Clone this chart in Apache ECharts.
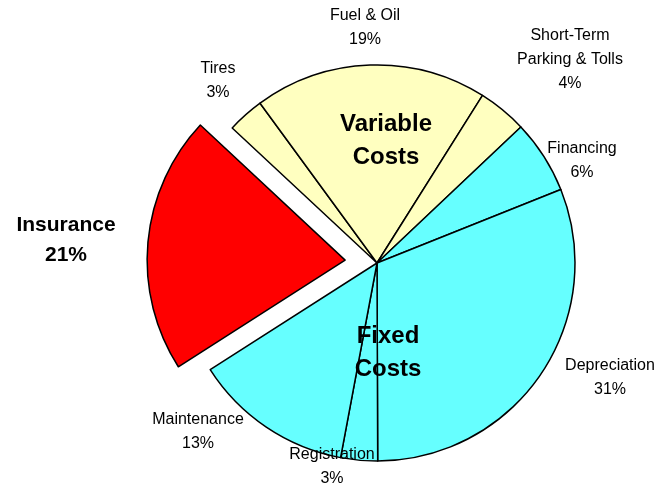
<!DOCTYPE html>
<html style="height: 100%">
    <head>
        <meta charset="utf-8">
    </head>
    <body style="height: 100%; margin: 0; background: #fff">
        <div id="container" style="width: 665px; height: 486px;"></div>
        <script type="text/javascript" src="https://cdn.jsdelivr.net/npm/echarts@6/dist/echarts.min.js"></script>
        <script type="text/javascript">
// slices, clockwise from Tires
const names = ['Tires', 'Fuel & Oil', 'Short-Term\nParking & Tolls', 'Financing',
    'Depreciation', 'Registration', 'Maintenance', 'Insurance'];
const shares = [3, 19, 4, 6, 31, 3, 13, 21];
const groups = ['var', 'var', 'var', 'fixed', 'fixed', 'fixed', 'fixed', 'ins'];

const groupColors = { var: '#ffffc0', fixed: '#66ffff', ins: '#ff0000' };

// where each label sits (centre of text block)
const labelPos = {
    'Tires': [218, 81],
    'Fuel & Oil': [365, 28],
    'Short-Term\nParking & Tolls': [570, 60],
    'Financing': [582, 161],
    'Depreciation': [610, 378],
    'Registration': [332, 467],
    'Maintenance': [198, 432],
    'Insurance': [66, 240]
};

var dom = document.getElementById('container');
var myChart = echarts.init(dom, null, { renderer: 'canvas' });

var insIdx = names.indexOf('Insurance');

var seriesData = names.map(function (n, i) {
    var item = {
        name: n,
        value: shares[i],
        itemStyle: { color: groupColors[groups[i]] }
    };
    if (i === insIdx) {
        // exploded slice; its label is drawn separately below
        item.selected = true;
        item.label = { show: false };
        item.select = { label: { show: false } };
    }
    return item;
});

var option = {
    animation: false,
    textStyle: { fontFamily: 'Liberation Sans, Arial, sans-serif' },
    series: [
        {
            type: 'pie',
            center: [377, 263],
            radius: 198,
            startAngle: 137,
            clockwise: true,
            selectedMode: 'single',
            selectedOffset: 32,
            avoidLabelOverlap: false,
            emphasis: { scale: false, disabled: true },
            itemStyle: { borderColor: '#000', borderWidth: 1.5 },
            label: {
                show: true,
                position: 'outside',
                formatter: '{b}\n{c}%',
                color: '#000',
                fontSize: 16,
                lineHeight: 24,
                fontFamily: 'Liberation Sans, Arial, sans-serif'
            },
            labelLine: { show: false },
            labelLayout: function (params) {
                var p = labelPos[names[params.dataIndex]];
                return { x: p[0], y: p[1], align: 'center', verticalAlign: 'middle', hideOverlap: false };
            },
            data: seriesData
        }
    ],
    graphic: {
        elements: [
            {
                type: 'text',
                x: labelPos['Insurance'][0], y: labelPos['Insurance'][1],
                style: {
                    text: names[insIdx] + '\n' + shares[insIdx] + '%',
                    font: 'bold 21px Liberation Sans, Arial, sans-serif',
                    lineHeight: 30,
                    fill: '#000',
                    align: 'center',
                    verticalAlign: 'middle'
                },
                z: 100
            },
            {
                type: 'text',
                x: 386, y: 141,
                style: {
                    text: 'Variable\nCosts',
                    font: 'bold 24px Liberation Sans, Arial, sans-serif',
                    lineHeight: 33,
                    fill: '#000',
                    align: 'center',
                    verticalAlign: 'middle'
                },
                z: 100
            },
            {
                type: 'text',
                x: 388, y: 353,
                style: {
                    text: 'Fixed\nCosts',
                    font: 'bold 24px Liberation Sans, Arial, sans-serif',
                    lineHeight: 33,
                    fill: '#000',
                    align: 'center',
                    verticalAlign: 'middle'
                },
                z: 100
            }
        ]
    }
};

myChart.setOption(option);
        </script>
    </body>
</html>
